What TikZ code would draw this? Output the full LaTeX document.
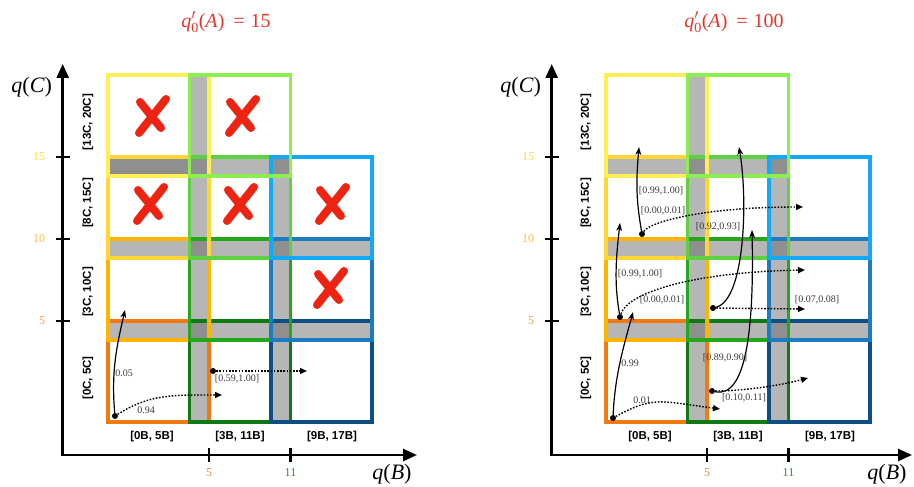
\documentclass[tikz,border=0pt]{standalone}
\usepackage{amsmath}
\usepackage{fontspec}
\setmainfont{Liberation Serif}
\setsansfont{Liberation Sans}
\usetikzlibrary{arrows.meta}

\definecolor{col11}{HTML}{F07A10}
\definecolor{col21}{HTML}{0F7A12}
\definecolor{col31}{HTML}{0D4F85}
\definecolor{col12}{HTML}{FFB400}
\definecolor{col22}{HTML}{22A818}
\definecolor{col32}{HTML}{1B7CC2}
\definecolor{col13}{HTML}{FFD633}
\definecolor{col23}{HTML}{5CD23F}
\definecolor{col33}{HTML}{14A9F6}
\definecolor{col14}{HTML}{FFEF55}
\definecolor{col24}{HTML}{8BF04F}
\definecolor{bandlight}{HTML}{B6B6B6}
\definecolor{banddark}{HTML}{8F8F8F}
\definecolor{crossred}{HTML}{EE2412}
\definecolor{titlered}{HTML}{E8352B}
\definecolor{labgray}{HTML}{3A3A3A}
\definecolor{ytick15}{HTML}{FFDB3A}
\definecolor{ytick10}{HTML}{FFBE40}
\definecolor{ytick5}{HTML}{F6A050}
\definecolor{xtick5}{HTML}{F08A3A}
\definecolor{xtick11}{HTML}{2F8F2F}

\begin{document}
\begin{tikzpicture}[x=1pt,y=-1pt,
  axisline/.style={line width=2.6pt,{Triangle[length=14pt,width=12pt]}-{Triangle[length=14pt,width=12pt]}},
  axtick/.style={line width=2.2pt},
  cell/.style={line width=3.3pt},
  nogo/.style={draw=crossred,line width=8pt,line cap=round},
  rowlab/.style={font=\fontsize{11.5}{13}\sffamily\bfseries,rotate=90},
  collab/.style={font=\fontsize{11.5}{13}\sffamily\bfseries},
  ticklab/.style={font=\fontsize{12}{14}\selectfont},
  axlab/.style={font=\fontsize{22}{26}\selectfont},
  headline/.style={text=titlered,font=\fontsize{20}{24}\selectfont},
  prob/.style={font=\fontsize{10}{12}\selectfont,text=labgray,inner sep=1pt},
  srcdot/.style={circle,fill=black,inner sep=0pt,minimum size=6pt},
  keep/.style={line width=1.2pt,-{Stealth[length=8pt,width=6pt]}},
  jump/.style={line width=1.4pt,dash pattern=on 1.6pt off 1.6pt,-{Triangle[length=7pt,width=6pt]}}]
\useasboundingbox (0,0) rectangle (914,487);

% both panels: overlap bands, cells, axes
\foreach \px/\ax/\xe/\dk in {0/62.7/417/banddark,498/551.7/912/bandlight} {
  \fill[bandlight] (189.5+\px,75) rectangle (209+\px,422);
  \fill[bandlight] (271+\px,157) rectangle (290.5+\px,422);
  \fill[bandlight] (108+\px,321) rectangle (372+\px,340);
  \fill[bandlight] (108+\px,239) rectangle (372+\px,258);
  \fill[bandlight] (108+\px,157) rectangle (290.5+\px,176);
  \fill[\dk] (108+\px,157) rectangle (189.5+\px,176);
  \foreach \bx in {189.5,271}
    \foreach \by in {157,239,321}
      \fill[banddark] (\bx+\px,\by) rectangle (\bx+19.5+\px,\by+19);
  \foreach \ci/\rj/\bc in {1/1/col11,2/1/col21,3/1/col31,1/2/col12,2/2/col22,3/2/col32,
                           1/3/col13,2/3/col23,3/3/col33,1/4/col14,2/4/col24}
    \draw[cell,\bc] (26.5+81.5*\ci+\px,504-82*\rj) rectangle +(101,-101);
  \draw[axisline] (\ax,64) |- (\xe,455);
  \foreach \ty/\tl/\tc in {157/15/ytick15,239/10/ytick10,321/5/ytick5} {
    \draw[axtick] (\ax-7,\ty) -- (\ax+7,\ty);
    \node[ticklab,text=\tc,anchor=east] (yt\tl-\px) at (\ax-14,\ty) {\tl};
  }
  \foreach \tx/\tl/\tc in {209/5/xtick5,290.5/11/xtick11} {
    \draw[axtick] (\tx+\px,448) -- (\tx+\px,462);
    \node[ticklab,text=\tc] (xt\tl-\px) at (\tx+\px,473) {\tl};
  }
  \node[axlab] (qc-\px) at (\ax-31,87) {\textit{q}(\textit{C})};
  \node[axlab] (qb-\px) at (\xe-25,474) {\textit{q}(\textit{B})};
  \foreach \ly/\lt in {378/{[0C, 5C]},292/{[3C, 10C]},203/{[8C, 15C]},122/{[13C, 20C]}}
    \node[rowlab] (rl\ly-\px) at (88+\px,\ly) {\lt};
  \foreach \cx/\ct in {152/{[0B, 5B]},240/{[3B, 11B]},332/{[9B, 17B]}}
    \node[collab] (cl\cx-\px) at (\cx+\px,437) {\ct};
}

\node[headline] (head-low) at (226,22) {$\textit{q}'_{\text{0}}\text{(\textit{A})\hspace{0.45em}=\hspace{0.3em}15}$};
\node[headline] (head-high) at (734,22) {$\textit{q}'_{\text{0}}\text{(\textit{A})\hspace{0.45em}=\hspace{0.3em}100}$};

% left: ruled-out cells
\foreach \cx/\cy in {152/116,242/116,150/204,240/204,332/204,330/288} {
  \draw[nogo] (\cx+14,\cy-17) -- (\cx-13,\cy+17);
  \draw[nogo] (\cx-12,\cy-14) -- (\cx+9,\cy+12);
}

% left: transitions
\node[srcdot] (s1) at (115,416) {};
\coordinate (s1up) at (125,310);
\coordinate (s1right) at (222,395);
\draw[keep] (s1) .. controls +(-4,-45) and +(-8,35) .. (s1up);
\draw[jump] (s1) .. controls +(35,-22) and +(-50,0) .. (s1right);
\node[prob] (p1up) at (124,373) {0.05};
\node[prob] (p1right) at (146,410) {0.94};
\node[srcdot] (s2) at (213,371) {};
\coordinate (s2right) at (307,371);
\draw[jump] (s2) -- (s2right);
\node[prob] (p2right) at (237,379) {[0.59,1.00]};

% right: transitions
\node[srcdot] (r1) at (613,418) {};
\coordinate (r1up) at (633,312);
\coordinate (r1right) at (720,409);
\draw[keep] (r1) .. controls +(2,-45) and +(-8,30) .. (r1up);
\draw[jump] (r1) .. controls +(40,-22) and +(-60,-8) .. (r1right);
\node[prob] (q1up) at (630,363) {0.99};
\node[prob] (q1right) at (642,400) {0.01};

\node[srcdot] (r2) at (620,317) {};
\coordinate (r2up) at (620,223);
\coordinate (r2right) at (805,270);
\draw[keep] (r2) .. controls +(-6,-35) and +(-4,35) .. (r2up);
\draw[jump] (r2) .. controls +(8,-25) and +(-110,2) .. (r2right);
\node[prob] (q2up) at (640,274) {[0.99,1.00]};
\node[prob] (q2right) at (662,300) {[0.00,0.01]};

\node[srcdot] (r3) at (642,234) {};
\coordinate (r3up) at (639,147);
\coordinate (r3right) at (803,207);
\draw[keep] (r3) .. controls +(-6,-35) and +(-3,35) .. (r3up);
\draw[jump] (r3) .. controls +(8,-12) and +(-100,0) .. (r3right);
\node[prob] (q3up) at (661,191) {[0.99,1.00]};
\node[prob] (q3right) at (663,211) {[0.00,0.01]};

\node[srcdot] (r4) at (713,308) {};
\coordinate (r4up) at (739,147);
\coordinate (r4right) at (805,309);
\draw[keep] (r4) .. controls +(32,-8) and +(9,53) .. (r4up);
\draw[jump] (r4) -- (r4right);
\node[prob] (q4up) at (718,227) {[0.92,0.93]};
\node[prob] (q4right) at (817,300) {[0.07,0.08]};

\node[srcdot] (r5) at (712,391) {};
\coordinate (r5up) at (752,230);
\coordinate (r5right) at (808,378);
\draw[keep] (r5) .. controls +(36,8) and +(2,90) .. (r5up);
\draw[jump] (r5) .. controls +(30,0) and +(-30,8) .. (r5right);
\node[prob] (q5up) at (725,358) {[0.89,0.90]};
\node[prob] (q5right) at (744,398) {[0.10,0.11]};
\end{tikzpicture}
\end{document}
